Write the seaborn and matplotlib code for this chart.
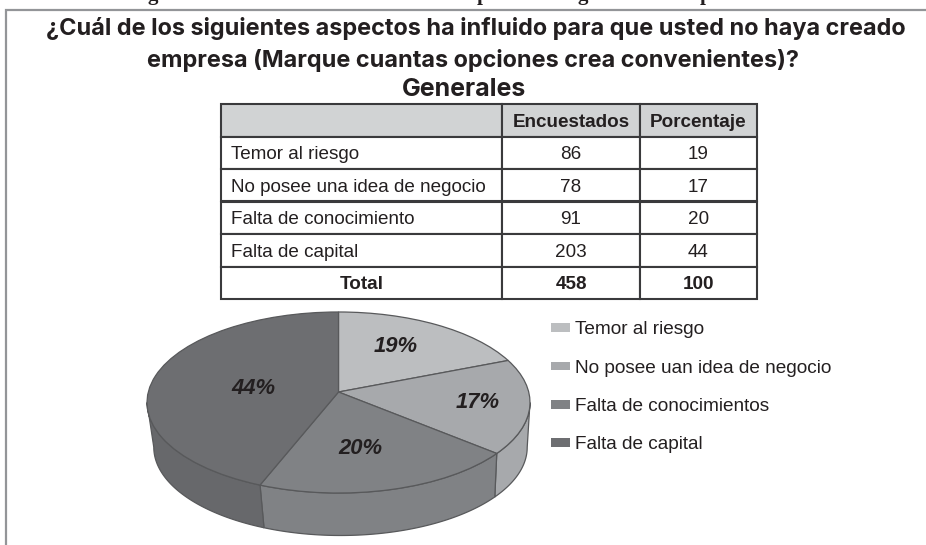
import numpy as np
import matplotlib
matplotlib.use("Agg")
import matplotlib.pyplot as plt
import matplotlib.patches as mpatches
from matplotlib.transforms import Transform
import seaborn as sns

# datos
filas = ["Temor al riesgo", "No posee una idea de negocio", "Falta de conocimiento", "Falta de capital", "Total"]
encuestados = [86, 78, 91, 203, 458]
porcentaje = [19, 17, 20, 44, 100]
encabezado = ["", "Encuestados", "Porcentaje"]
leyenda = ["Temor al riesgo", "No posee uan idea de negocio", "Falta de conocimientos", "Falta de capital"]
titulo = ["¿Cuál de los siguientes aspectos ha influido para que usted no haya creado",
          "empresa (Marque cuantas opciones crea convenientes)?"]
subtitulo = "Generales"

grises = sns.color_palette(["#bcbec0", "#a7a9ac", "#808285", "#6d6e71"])
grises_lado = sns.color_palette(["#bcbec0", "#a7a9ac", "#808285", "#67686b"])
borde = "#58595b"
negro = "#231f20"

sns.set_theme(style="white")
plt.rcParams["font.family"] = ["Liberation Sans", "DejaVu Sans"]

W, H = 926, 545
fig = plt.figure(figsize=(W / 100, H / 100), dpi=100)
ax = fig.add_axes([0, 0, 1, 1])

# circulo unidad -> elipse en perspectiva (el vertice queda arriba del centro)
K, A, C, CX, CY = 0.116, 89.3, 190.2, 338.5, 392.0


def tilt(xy, escala=1.0, dx=0.0, dy=0.0):
    u, v = xy[:, 0], xy[:, 1]
    w = 1 + K * v
    return np.column_stack([CX + dx + escala * C * u / w, CY + dy - escala * A * v / w])


class Tilt(Transform):
    input_dims = 2
    output_dims = 2

    def transform_non_affine(self, xy):
        return tilt(np.asarray(xy, dtype=float))


valores = porcentaje[:4]
wedges, _, autotexts = ax.pie(valores, colors=grises, startangle=90, counterclock=False,
                              autopct="%d%%", wedgeprops=dict(edgecolor=borde, linewidth=0.9, zorder=3),
                              textprops=dict(fontsize=15.8, fontweight="bold", fontstyle="italic", color=negro))
ax.set_aspect("auto")
ax.set_xlim(0, W)
ax.set_ylim(H, 0)
ax.set_axis_off()

for w in wedges:
    w.set_transform(Tilt() + ax.transData)

for t, pos in zip(autotexts, [(396, 347), (478, 403), (360, 448), (253, 389)]):
    t.set_position(pos)
    t.set_ha("center")
    t.set_va("center")
    t.set_zorder(5)

# pared lateral, a partir de los mismos porcentajes
lim = np.cumsum([0] + valores) * 3.6
for i in range(4):
    ini, fin = max(lim[i], 96.7), min(lim[i + 1], 263.3)
    if fin <= ini:
        continue
    th = np.radians(np.linspace(ini, fin, 80))
    rim = np.column_stack([np.sin(th), np.cos(th)])
    arriba = tilt(rim)
    abajo = tilt(rim, escala=0.975, dx=2, dy=45)
    pts = np.vstack([arriba, abajo[::-1]])
    ax.fill(pts[:, 0], pts[:, 1], color=grises_lado[i], ec=borde, lw=0.9, zorder=2)

# marco gris
ax.plot([6, 6, W], [H, 9.5, 9.5], color="#939598", lw=1.6, solid_joinstyle="miter", zorder=1)

# restos de la linea cortada arriba
for x, c in zip([153, 483, 583, 706], "gpgp"):
    ax.text(x, 0, c, family="Liberation Serif", fontweight="bold", fontsize=15, ha="center", va="baseline", color=negro)

# titulos
ax.text(476, 29, titulo[0], family="Inter", fontweight="bold", fontsize=16.9, ha="center", va="center", color=negro)
ax.text(473, 60, titulo[1], family="Inter", fontweight="bold", fontsize=16.9, ha="center", va="center", color=negro)
ax.text(464, 89, subtitulo, family="Inter", fontweight="bold", fontsize=18, ha="center", va="center", color=negro)

# tabla
celdas = [encabezado] + [[f, str(e), str(p)] for f, e, p in zip(filas, encuestados, porcentaje)]
tabla = ax.table(cellText=celdas, colWidths=[281, 138, 117], bbox=[221 / W, 1 - 299 / H, 536 / W, 195 / H],
                 cellLoc="center")
tabla.auto_set_font_size(False)
tabla.set_fontsize(13.6)
for (r, c), cell in tabla.get_celld().items():
    cell.set_edgecolor("#3a3a3c")
    cell.set_linewidth(1.5)
    cell.get_text().set_color(negro)
    cell.get_text().set_va("center_baseline")
    if r == 0:
        cell.set_facecolor("#d1d3d4")
    if r == 0 or r == 5:
        cell.get_text().set_fontweight("bold")
    if c == 0 and r != 5:
        cell.PAD = 0.036
        cell.get_text().set_ha("left")

# leyenda
handles = [mpatches.Patch(facecolor=g, edgecolor="none") for g in grises]
ax.legend(handles, leyenda, loc="upper left", bbox_to_anchor=(551, 321.5), bbox_transform=ax.transData,
          frameon=False, fontsize=13.7, labelspacing=1.12, handlelength=1.0, handleheight=0.32,
          handletextpad=0.26, borderpad=0, borderaxespad=0, labelcolor=negro)

fig.savefig("out.png", dpi=100)
